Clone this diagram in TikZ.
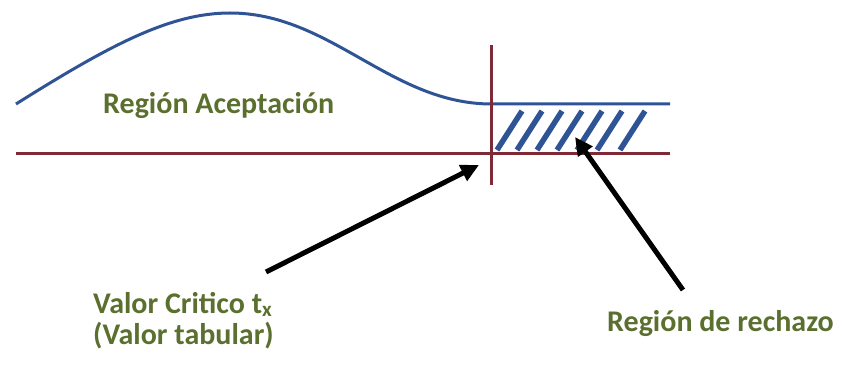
\documentclass[tikz,border=0pt]{standalone}
\usepackage{fontspec}
\setmainfont{Carlito}
\usetikzlibrary{arrows.meta}
\definecolor{curveblue}{HTML}{2F5496}
\definecolor{axisred}{HTML}{7F2A36}
\definecolor{labgreen}{HTML}{5B6F2F}
\tikzset{
  curve/.style={curveblue, line width=3pt},
  axisline/.style={axisred, line width=3pt},
  hatchline/.style={curveblue, line width=5.5pt},
  pointer/.style={black, line width=5pt, -{Triangle[length=18pt,width=17pt]}},
  label/.style={labgreen, font=\fontsize{30}{36}\selectfont\bfseries, inner sep=0pt, anchor=base west, align=left}
}
\begin{document}
\begin{tikzpicture}[x=1pt,y=-1pt]
\useasboundingbox (0,0) rectangle (845,371);
% curve
\draw[curve] (16,104) .. controls (110,45) and (170,13) .. (230,13)
  .. controls (330,13) and (390,103) .. (490,104) -- (670,104);
% hatch
\foreach \b in {497,517,537,557,577,597,620}{
  \draw[hatchline] (\b,150) -- ++(25,-39);
}
% axes
\draw[axisline] (16,154) -- (670,154);
\draw[axisline] (491,45) -- (491,185);
% labels
\node[label] (acc) at (103,114) {Región Aceptación};
\node[label] (crit) at (93,313) {Valor Critico t\textsubscript{x}};
\node[label] (tab) at (93,344) {(Valor tabular)};
\node[label] (rech) at (607,331) {Región de rechazo};
% arrows
\coordinate (a1s) at (266,272);
\coordinate (a1e) at (479,165);
\coordinate (a2s) at (683,290);
\coordinate (a2e) at (575,137);
\draw[pointer] (a1s) -- (a1e);
\draw[pointer] (a2s) -- (a2e);
\end{tikzpicture}
\end{document}
